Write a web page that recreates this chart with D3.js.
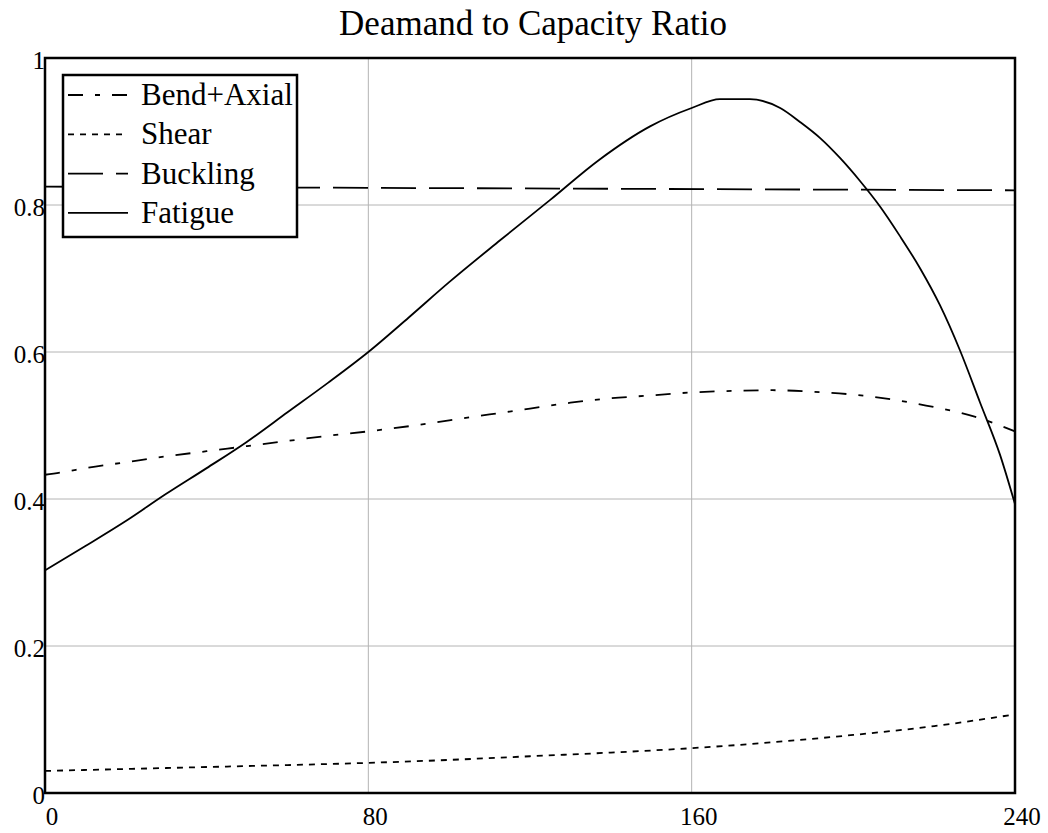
<!DOCTYPE html>
<html><head><meta charset="utf-8">
<script src="https://cdn.jsdelivr.net/npm/d3@7"></script>
<style>body{margin:0;background:#fff}svg{display:block}</style>
</head><body><svg id="c" width="1048" height="833"></svg>
<script>
const title = "Deamand to Capacity Ratio";
const xTicks = [0, 80, 160, 240];
const yTicks = [0, 0.2, 0.4, 0.6, 0.8, 1];
const yTickLabels = ["0", "0.2", "0.4", "0.6", "0.8", "1"];
const seriesNames = ["Bend+Axial", "Shear", "Buckling", "Fatigue"];
const bendX = [0,5,10,20,30,40,50,60,70,80,90,100,110,120,130,140,150,160,170,180,190,200,210,220,230,240];
const bendY = [0.433,0.437,0.442,0.450,0.458,0.465,0.472,0.479,0.486,0.492,0.499,0.507,0.515,0.523,0.531,0.537,0.541,0.545,0.547,0.548,0.546,0.542,0.535,0.525,0.512,0.492];
const shearX = [0,15,30,45,60,80,100,120,140,160,180,200,220,240];
const shearY = [0.030,0.032,0.034,0.036,0.038,0.041,0.045,0.050,0.055,0.061,0.069,0.079,0.091,0.107];
const buckX = [0,240];
const buckY = [0.825,0.820];
const fatX = [0,10,20,30,40,50,60,70,80,90,100,112.6,125,137,149.7,160,167,174.4,181.9,186.8,191.8,196.7,201.6,206.6,211.5,216.5,221.4,226.4,231.3,236.3,240];
const fatY = [0.303,0.336,0.370,0.407,0.442,0.478,0.518,0.558,0.600,0.647,0.695,0.752,0.807,0.861,0.907,0.932,0.944,0.944,0.932,0.913,0.891,0.864,0.833,0.798,0.758,0.714,0.664,0.602,0.532,0.460,0.393];

const dashes = ["15,12,5,12", "6,6", "35,13", null];
const L = 45, R = 1015, T = 58, B = 793;
const svg = d3.select("#c");
const font = "'Liberation Serif','Times New Roman',serif";
const x = d3.scaleLinear().domain([0,240]).range([L,R]);
const y = d3.scaleLinear().domain([0,1]).range([B,T]);

// grid
svg.append("g").selectAll("line").data(xTicks.slice(1,-1)).join("line")
  .attr("x1",d=>x(d)).attr("x2",d=>x(d)).attr("y1",T).attr("y2",B)
  .attr("stroke","#b4b4b4").attr("stroke-width",1);
svg.append("g").selectAll("line").data(yTicks.slice(1,-1)).join("line")
  .attr("y1",d=>y(d)).attr("y2",d=>y(d)).attr("x1",L).attr("x2",R)
  .attr("stroke","#b4b4b4").attr("stroke-width",1);

// series
const series = [[bendX,bendY],[shearX,shearY],[buckX,buckY],[fatX,fatY]];
const line = d3.line().x(d=>x(d[0])).y(d=>y(d[1])).curve(d3.curveMonotoneX);
series.forEach((s,i)=>{
  const pts = s[0].map((v,k)=>[v,s[1][k]]);
  const p = svg.append("path").attr("d",line(pts)).attr("fill","none")
    .attr("stroke","#000").attr("stroke-width",1.8);
  if (dashes[i]) p.attr("stroke-dasharray",dashes[i]);
});

// frame
svg.append("rect").attr("x",L).attr("y",T).attr("width",R-L).attr("height",B-T)
  .attr("fill","none").attr("stroke","#000").attr("stroke-width",2.5);

// tick labels
svg.append("g").selectAll("text").data(xTicks).join("text")
  .attr("x",d=>x(d)+7).attr("y",B+32).attr("text-anchor","middle")
  .attr("font-family",font).attr("font-size",25).text(d=>d);
svg.append("g").selectAll("text").data(yTicks).join("text")
  .attr("x",L).attr("y",d=>y(d)+11).attr("text-anchor","end")
  .attr("font-family",font).attr("font-size",25).text((d,i)=>yTickLabels[i]);

// title
svg.append("text").attr("x",533).attr("y",35).attr("text-anchor","middle")
  .attr("font-family",font).attr("font-size",35).text(title);

// legend
const lg = svg.append("g");
lg.append("rect").attr("x",63).attr("y",75).attr("width",234).attr("height",162)
  .attr("fill","#fff").attr("stroke","#000").attr("stroke-width",2.5);
seriesNames.forEach((n,i)=>{
  const cy = 95 + i*39.3;
  const l = lg.append("line").attr("x1",68).attr("x2",128).attr("y1",cy).attr("y2",cy)
    .attr("stroke","#000").attr("stroke-width",1.8);
  if (dashes[i]) l.attr("stroke-dasharray",dashes[i]);
  lg.append("text").attr("x",141).attr("y",cy+10).attr("font-family",font)
    .attr("font-size",31).text(n);
});
</script></body></html>
